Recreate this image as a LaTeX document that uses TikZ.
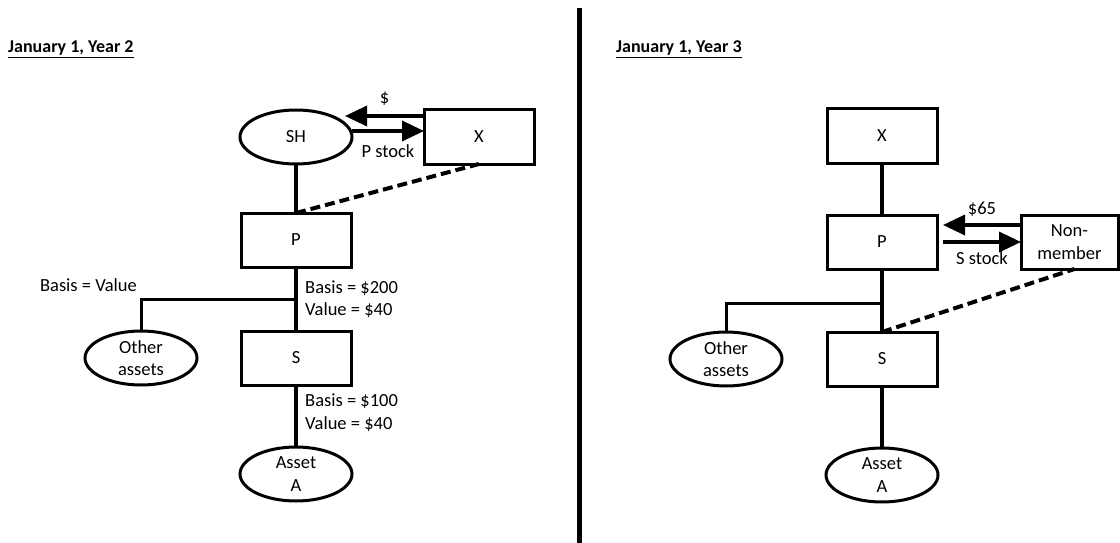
\documentclass[tikz,border=0pt]{standalone}
\usepackage{fontspec}
\setmainfont{Carlito}
\usetikzlibrary{shapes.geometric, arrows.meta, positioning, calc}

\begin{document}
\begin{tikzpicture}[x=1pt, y=-1pt,
    every node/.style={font=\fontsize{18.5}{22.5}\selectfont},
    box/.style={rectangle, draw, line width=3pt, minimum width=110pt, minimum height=54pt, align=center, inner sep=0pt, outer sep=0pt},
    oval/.style={ellipse, draw, line width=3pt, minimum width=112pt, minimum height=54pt, align=center, inner sep=-2.5pt, outer sep=0pt},
    title/.style={font=\fontsize{18}{22}\selectfont\bfseries, anchor=base west, inner sep=0pt},
    tag/.style={align=left, inner sep=0pt},
    link/.style={line width=4.5pt},
    branch/.style={line width=3pt},
    owner/.style={line width=4pt, dash pattern=on 10pt off 5pt},
    arr/.style={-{Triangle[length=22pt,width=20pt]}, line width=3.5pt},
]
    \useasboundingbox (0,0) rectangle (1120,543);

    % January 1, Year 2
    \node[title] (t2) at (8,53) {\underline{January 1, Year 2}};
    \node[oval] (sh) at (296,137) {SH};
    \node[box, right=72pt of sh] (xl) {X};
    \node[box, below=49pt of sh] (pl) {P};
    \node[box, below=64pt of pl] (sl) {S};
    \node[oval, below=62pt of sl] (al) {Asset\\A};
    \node[oval, left=44pt of sl] (ol) {Other\\assets};
    \coordinate (jl) at ($(pl.south)!0.5!(sl.north)$);
    \coordinate (kl) at ($(sl.south)!0.45!(al.north)$);

    \draw[arr] ([yshift=21pt]xl.west) -- node[above=5pt] {\$} ([xshift=-7pt,yshift=21pt]sh.east);
    \draw[arr] ([yshift=6pt]sh.east) -- node[below=9pt] {P stock} ([yshift=6pt]xl.west);
    \draw[link] (sh) -- (pl);
    \draw[owner] (pl.north) -- (xl.south);
    \draw[link] (pl) -- (sl);
    \draw[link] (sl) -- (al);
    \draw[branch] (jl) -| (ol);
    \node[tag, anchor=east] (bvl) at (137,285) {Basis = Value};
    \node[tag, anchor=west] (pvl) at ([xshift=9pt]jl) {Basis = \$200\\Value = \$40};
    \node[tag, anchor=west] (svl) at ([xshift=9pt]kl) {Basis = \$100\\Value = \$40};

    % divider
    \draw[line width=5pt] (579,8) -- (579,543);

    % January 1, Year 3
    \node[title] (t3) at (616,53) {\underline{January 1, Year 3}};
    \node[box] (xr) at (882,136) {X};
    \node[box, below=52pt of xr] (pr) {P};
    \node[box, below=63pt of pr] (sr) {S};
    \node[oval, below=62pt of sr] (ar) {Asset\\A};
    \node[oval, left=45pt of sr] (or) {Other\\assets};
    \node[box, minimum width=97pt, right=84pt of pr] (nm) {Non-\\member};
    \coordinate (jr) at ($(pr.south)!0.54!(sr.north)$);

    \draw[link] (xr) -- (pr);
    \draw[link] (pr) -- (sr);
    \draw[link] (sr) -- (ar);
    \draw[branch] (jr) -| (or);
    \draw[arr] ([yshift=17pt]nm.west) -- node[above=3pt] {\$65} ([xshift=6pt,yshift=17pt]pr.east);
    \draw[arr] ([xshift=6pt]pr.east) -- node[below=5pt] {S stock} (nm.west);
    \draw[owner] (sr.north) -- ([xshift=5pt]nm.south);
\end{tikzpicture}
\end{document}
